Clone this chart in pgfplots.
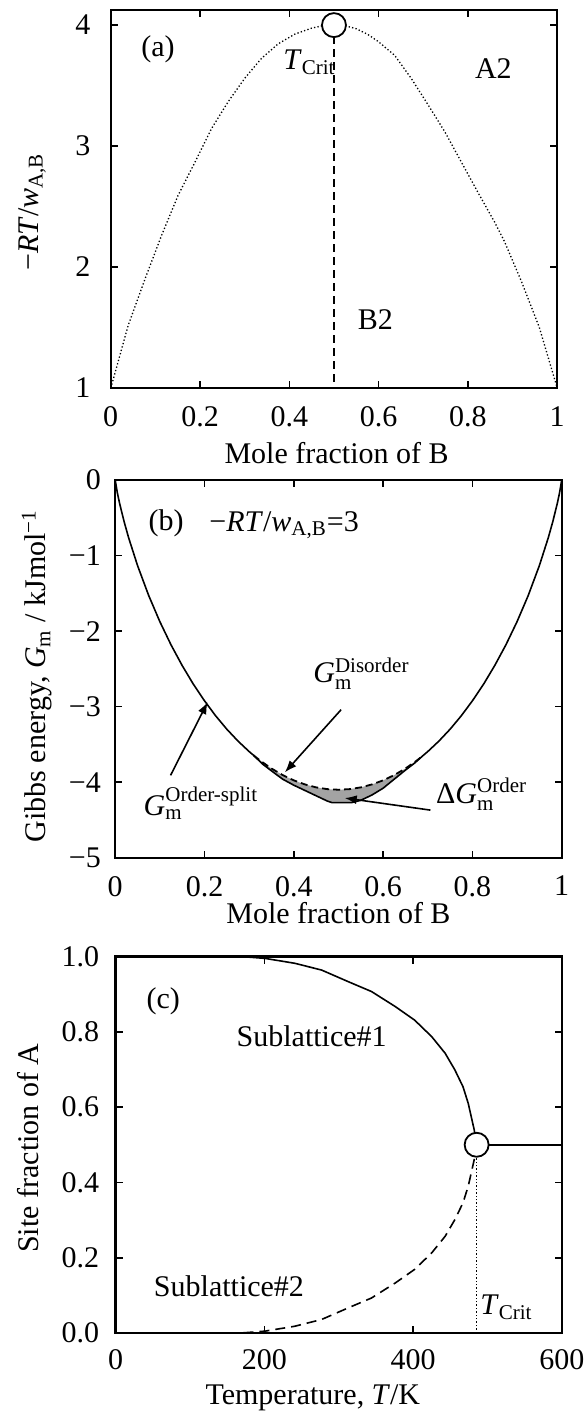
\documentclass[border=0pt]{standalone}
\usepackage{fontspec}
\setmainfont{Liberation Serif}
\usepackage{amsmath}
\usepackage{pgfplots}
\pgfplotsset{compat=1.18}
\usetikzlibrary{arrows.meta}
\pgfplotsset{panel/.style={
  scale only axis, width=223.25pt, anchor=south west,
  tick align=inside, tick pos=both,
  axis line style={line width=1.1pt},
  major tick style={line width=0.8pt, black},
  major tick length=3.5pt,
  clip=false,
  /pgf/number format/assume math mode=true,
  tick label style={font=\fontsize{15}{18}\selectfont},
  label style={font=\fontsize{15}{18}\selectfont},
  xticklabel style={yshift=-4pt},
}}
\begin{document}
\fontsize{15}{18}\selectfont
\begin{tikzpicture}[x=1pt,y=1pt]
\useasboundingbox (0,0) rectangle (292,-705.5);
% ---------------- (a)
\begin{axis}[panel, at={(55.35pt,-194pt)}, height=189pt,
  xmin=0, xmax=1, ymin=1, ymax=4.125,
  xtick={0,0.2,0.4,0.6,0.8,1}, xticklabels={0,0.2,0.4,0.6,0.8,1},
  ytick={1,2,3,4}, yticklabels={1,2,3,4},
  yticklabel style={xshift=-5pt},
  xlabel={Mole fraction of B},
  xlabel style={at={(axis description cs:0.506,-0.172)}, anchor=center},
  ylabel={−\textit{RT}/\textit{w}\textsubscript{A,B}},
  ylabel style={at={(axis description cs:-0.176,0.466)}, anchor=center},
]
\addplot[black, line width=0.65pt, dash pattern=on 0.65pt off 1.1pt] coordinates {
(0,1) (0.006,1.075) (0.039,1.516) (0.077,1.903) (0.114,2.262) (0.151,2.593)
(0.189,2.869) (0.226,3.146) (0.263,3.366) (0.300,3.560) (0.338,3.726)
(0.375,3.845) (0.412,3.925) (0.45,3.975) (0.475,3.995) (0.5,4.0) (0.525,3.995)
(0.55,3.97) (0.575,3.925) (0.599,3.865) (0.636,3.75) (0.673,3.56) (0.711,3.34) (0.748,3.12)
(0.785,2.87) (0.822,2.62) (0.860,2.37) (0.882,2.21) (0.92,1.88) (0.96,1.50)
(0.994,1.075) (1,1)};
\addplot[black, line width=0.7pt, dash pattern=on 4pt off 2.5pt] coordinates {(0.5,1.05) (0.5,3.95)};
\addplot[only marks, mark=*, mark size=6pt, mark options={fill=white, draw=black, line width=0.9pt}] coordinates {(0.5,4.0)};
\node at (axis cs:0.106,3.80) {(a)};
\node[anchor=base west, inner sep=0pt] at (axis cs:0.386,3.63) {\textit{T}\textsubscript{Crit}};
\node at (axis cs:0.857,3.64) {A2};
\node at (axis cs:0.593,1.566) {B2};
\end{axis}
% ---------------- (b)
\begin{axis}[panel, at={(57.6pt,-428.85pt)}, height=188.85pt,
  xmin=0, xmax=1, ymin=-5, ymax=0,
  xtick={0,0.2,0.4,0.6,0.8,1}, xticklabels={0,0.2,0.4,0.6,0.8,1},
  ytick={-5,-4,-3,-2,-1,0}, yticklabels={−5,−4,−3,−2,−1,0},
  yticklabel style={xshift=-2pt},
  xlabel={Mole fraction of B},
  xlabel style={at={(axis description cs:0.5,-0.147)}, anchor=center},
  ylabel={Gibbs energy, \textit{G}\textsubscript{m} / kJmol\textsuperscript{−1}},
  ylabel style={at={(axis description cs:-0.175,0.481)}, anchor=center},
]
\addplot[fill=gray!72, draw=none] coordinates {
(0.31,-3.645) (0.33,-3.76) (0.35,-3.85) (0.375,-3.96) (0.40,-4.04) (0.425,-4.11)
(0.45,-4.18) (0.475,-4.25) (0.485,-4.27) (0.53,-4.27) (0.55,-4.24) (0.575,-4.17)
(0.6,-4.08) (0.625,-3.96) (0.65,-3.84) (0.67,-3.75) (0.69,-3.645)
(0.675,-3.716) (0.65,-3.819) (0.625,-3.906) (0.6,-3.976) (0.575,-4.030)
(0.55,-4.069) (0.525,-4.092) (0.5,-4.100) (0.475,-4.092) (0.45,-4.069)
(0.425,-4.030) (0.4,-3.976) (0.375,-3.906) (0.35,-3.819) (0.325,-3.716) (0.31,-3.645)} -- cycle;
\addplot[black, line width=0.9pt, dash pattern=on 3.5pt off 2pt] coordinates {
(0.31,-3.645) (0.325,-3.716) (0.35,-3.819) (0.375,-3.906) (0.4,-3.976)
(0.425,-4.030) (0.45,-4.069) (0.475,-4.092) (0.5,-4.100) (0.525,-4.092)
(0.55,-4.069) (0.575,-4.030) (0.6,-3.976) (0.625,-3.906) (0.65,-3.819)
(0.675,-3.716) (0.69,-3.645)};
\addplot[black, line width=0.8pt] coordinates {
(0,0) (0.005,-0.175) (0.01,-0.313) (0.02,-0.552) (0.03,-0.763) (0.05,-1.132)
(0.075,-1.529) (0.1,-1.875) (0.125,-2.182) (0.15,-2.456) (0.175,-2.703)
(0.2,-2.923) (0.225,-3.122) (0.25,-3.299) (0.275,-3.456) (0.3,-3.595)
(0.31,-3.645) (0.33,-3.76) (0.35,-3.85) (0.375,-3.96) (0.40,-4.04) (0.425,-4.11)
(0.45,-4.18) (0.475,-4.25) (0.485,-4.27) (0.53,-4.27) (0.55,-4.24) (0.575,-4.17)
(0.6,-4.08) (0.625,-3.96) (0.65,-3.84) (0.67,-3.75) (0.69,-3.645)
(0.7,-3.595) (0.725,-3.456) (0.75,-3.299) (0.775,-3.122) (0.8,-2.923)
(0.825,-2.703) (0.85,-2.456) (0.875,-2.182) (0.9,-1.875) (0.925,-1.529)
(0.95,-1.132) (0.97,-0.763) (0.98,-0.552) (0.99,-0.313) (0.995,-0.175) (1,0)};
\node at (axis cs:0.114,-0.57) {(b)};
\node[anchor=west, inner sep=0pt] at (axis cs:0.21,-0.60) {−\textit{RT}/\textit{w}\textsubscript{A,B}=3};
\node[anchor=base west, inner sep=0pt] at (axis cs:0.443,-2.68) {\textit{G}$^{\text{Disorder}}_{\text{m}}$};
\node[anchor=base west, inner sep=0pt] at (axis cs:0.063,-4.44) {\textit{G}$^{\text{Order-split}}_{\text{m}}$};
\node[anchor=base west, inner sep=0pt] at (axis cs:0.718,-4.28) {Δ\textit{G}$^{\text{Order}}_{\text{m}}$};
\draw[line width=0.8pt, -{Latex[length=6pt,width=4.5pt]}] (axis cs:0.506,-3.04) -- (axis cs:0.380,-3.87);
\draw[line width=0.8pt, -{Latex[length=6pt,width=4.5pt]}] (axis cs:0.124,-3.91) -- (axis cs:0.207,-2.94);
\draw[line width=0.8pt, -{Latex[length=6pt,width=4.5pt]}] (axis cs:0.706,-4.37) -- (axis cs:0.514,-4.21);
\end{axis}
% ---------------- (c)
\begin{axis}[panel, at={(57.75pt,-666.5pt)}, height=188.25pt,
  xmin=0, xmax=600, ymin=0, ymax=1,
  xtick={0,200,400,600}, xticklabels={0,200,400,600},
  ytick={0,0.2,0.4,0.6,0.8,1}, yticklabels={0.0,0.2,0.4,0.6,0.8,1.0},
  yticklabel style={xshift=-3pt},
  xticklabel style={yshift=1pt},
  xlabel={Temperature, \textit{T}/K},
  xlabel style={at={(axis description cs:0.442,-0.172)}, anchor=center},
  ylabel={Site fraction of A},
  ylabel style={at={(axis description cs:-0.196,0.491)}, anchor=center},
]
\addplot[black, line width=0.8pt] coordinates {
(0,1) (150,1) (175,0.999) (201,0.995) (241,0.982) (277,0.964) (313,0.933)
(344,0.907) (376,0.867) (402,0.831) (425,0.787) (443,0.743) (456,0.699)
(467,0.654) (474,0.610) (478,0.575) (482,0.54) (485.3,0.5)};
\addplot[black, line width=0.8pt, dash pattern=on 5pt off 3pt] coordinates {
(0,0) (150,0) (175,0.001) (201,0.005) (241,0.018) (277,0.036) (313,0.067)
(344,0.093) (376,0.133) (402,0.169) (425,0.213) (443,0.257) (456,0.301)
(467,0.346) (474,0.390) (478,0.425) (482,0.46) (485.3,0.5)};
\addplot[black, line width=0.8pt] coordinates {(485.3,0.5) (600,0.5)};
\addplot[black, line width=0.7pt, dash pattern=on 0.7pt off 1pt] coordinates {(485.3,0) (485.3,0.47)};
\addplot[only marks, mark=*, mark size=6pt, mark options={fill=white, draw=black, line width=0.9pt}] coordinates {(485.3,0.5)};
\node at (axis cs:64.2,0.880) {(c)};
\node at (axis cs:263.6,0.787) {Sublattice\#1};
\node at (axis cs:152.5,0.123) {Sublattice\#2};
\node[anchor=base west, inner sep=0pt] at (axis cs:489.8,0.048) {\textit{T}\textsubscript{Crit}};
\end{axis}
\end{tikzpicture}
\end{document}
